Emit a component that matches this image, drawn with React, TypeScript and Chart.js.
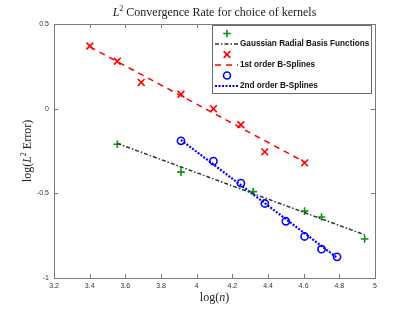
import React, { useEffect, useRef } from "react";
import { Chart, registerables } from "chart.js";

Chart.register(...registerables);

// ---- Data ----
const redX = [3.401, 3.555, 3.689, 3.912, 4.094, 4.248, 4.382, 4.605];
const redY = [0.37, 0.28, 0.155, 0.085, 0.0, -0.095, -0.255, -0.32];
const greenX = [3.555, 3.912, 4.317, 4.605, 4.7, 4.942];
const greenY = [-0.21, -0.375, -0.49, -0.605, -0.64, -0.77];
const blueX = [3.912, 4.094, 4.248, 4.382, 4.5, 4.605, 4.7, 4.787];
const blueY = [-0.19, -0.31, -0.44, -0.56, -0.665, -0.755, -0.83, -0.875];

const redFitX = [3.401, 4.605];
const redFitY = [0.365, -0.315];
const greenFitX = [3.555, 4.942];
const greenFitY = [-0.205, -0.745];
const blueFitX = [3.912, 4.787];
const blueFitY = [-0.185, -0.88];

const legendLabels = [
  "Gaussian Radial Basis Functions",
  "1st order B-Splines",
  "2nd order B-Splines",
];
const titleText = ["L", "2", " Convergence Rate for choice of kernels"];
const xTitle = ["log(", "n", ")"];
const yTitle = ["log(", "L", "2", " Error)"];

const GREEN = "#109010";
const GREEN_LINE = "#1f3f24";
const RED = "#ff0000";
const BLUE = "#0000ff";

const pts = (xs: number[], ys: number[]) => xs.map((x, i) => ({ x, y: ys[i] }));

type Part = { t: string; font: string; dy: number };

function drawRich(ctx: CanvasRenderingContext2D, parts: Part[], cx: number, cy: number) {
  let total = 0;
  const widths = parts.map((p) => {
    ctx.font = p.font;
    const w = ctx.measureText(p.t).width;
    total += w;
    return w;
  });
  let x = cx - total / 2;
  ctx.textBaseline = "middle";
  ctx.textAlign = "left";
  parts.forEach((p, i) => {
    ctx.font = p.font;
    ctx.fillText(p.t, x, cy + p.dy);
    x += widths[i];
  });
}

function drawMarker(ctx: CanvasRenderingContext2D, kind: string, x: number, y: number, r: number, color: string) {
  ctx.save();
  ctx.strokeStyle = color;
  ctx.lineWidth = 1.6;
  ctx.beginPath();
  if (kind === "plus") {
    ctx.moveTo(x - r, y); ctx.lineTo(x + r, y);
    ctx.moveTo(x, y - r); ctx.lineTo(x, y + r);
  } else if (kind === "cross") {
    const d = r * 0.8;
    ctx.moveTo(x - d, y - d); ctx.lineTo(x + d, y + d);
    ctx.moveTo(x + d, y - d); ctx.lineTo(x - d, y + d);
  } else {
    ctx.arc(x, y, r, 0, Math.PI * 2);
  }
  ctx.stroke();
  ctx.restore();
}

const decor = {
  id: "decor",
  afterDraw(chart: any) {
    const ctx: CanvasRenderingContext2D = chart.ctx;
    const { left, right, top, bottom } = chart.chartArea;
    const xs = chart.scales.x;
    const ys = chart.scales.y;
    ctx.save();
    // box
    ctx.strokeStyle = "#7a7a7a";
    ctx.lineWidth = 1;
    ctx.strokeRect(Math.round(left) + 0.5, Math.round(top) + 0.5, Math.round(right - left), Math.round(bottom - top));
    // inward ticks
    const tl = 4;
    ctx.beginPath();
    xs.ticks.forEach((t: any) => {
      const px = Math.round(xs.getPixelForValue(t.value)) + 0.5;
      ctx.moveTo(px, bottom); ctx.lineTo(px, bottom - tl);
      ctx.moveTo(px, top); ctx.lineTo(px, top + tl);
    });
    ys.ticks.forEach((t: any) => {
      const py = Math.round(ys.getPixelForValue(t.value)) + 0.5;
      ctx.moveTo(left, py); ctx.lineTo(left + tl, py);
      ctx.moveTo(right, py); ctx.lineTo(right - tl, py);
    });
    ctx.stroke();

    // title
    ctx.fillStyle = "#222";
    const serif = "'Liberation Serif', 'DejaVu Serif', serif";
    drawRich(ctx, [
      { t: titleText[0], font: `italic 12px ${serif}`, dy: 0 },
      { t: titleText[1], font: `8px ${serif}`, dy: -4 },
      { t: titleText[2], font: `12px ${serif}`, dy: 0 },
    ], (left + right) / 2, 13);

    // x title
    drawRich(ctx, [
      { t: xTitle[0], font: `12px ${serif}`, dy: 0 },
      { t: xTitle[1], font: `italic 12px ${serif}`, dy: 0 },
      { t: xTitle[2], font: `12px ${serif}`, dy: 0 },
    ], (left + right) / 2, 298);

    // y title
    ctx.save();
    ctx.translate(28, (top + bottom) / 2);
    ctx.rotate(-Math.PI / 2);
    drawRich(ctx, [
      { t: yTitle[0], font: `12px ${serif}`, dy: 0 },
      { t: yTitle[1], font: `italic 12px ${serif}`, dy: 0 },
      { t: yTitle[2], font: `8px ${serif}`, dy: -4 },
      { t: yTitle[3], font: `12px ${serif}`, dy: 0 },
    ], 0, 0);
    ctx.restore();

    // legend
    const bx = 212, by = 25, bw = 159, bh = 68;
    ctx.fillStyle = "#ffffff";
    ctx.fillRect(bx, by, bw, bh);
    ctx.strokeStyle = "#6a6a6a";
    ctx.lineWidth = 1;
    ctx.strokeRect(bx + 0.5, by + 0.5, bw, bh);
    const rows = [33.5, 44, 54.5, 65, 75.5, 86];
    const mx = 227, lx0 = 215, lx1 = 238, tx = 240;
    drawMarker(ctx, "plus", mx, rows[0], 3.8, GREEN);
    drawMarker(ctx, "cross", mx, rows[2], 4.2, RED);
    drawMarker(ctx, "circle", mx, rows[4], 3.5, BLUE);
    const lineRow = (y: number, color: string, dash: number[], lw: number) => {
      ctx.save();
      ctx.strokeStyle = color;
      ctx.lineWidth = lw;
      ctx.setLineDash(dash);
      ctx.beginPath();
      ctx.moveTo(lx0, y); ctx.lineTo(lx1, y);
      ctx.stroke();
      ctx.restore();
    };
    lineRow(rows[1], GREEN_LINE, [4, 2, 1.5, 2], 1.5);
    lineRow(rows[3], RED, [6, 5], 1.5);
    lineRow(rows[5], BLUE, [2, 1.5], 2.2);
    ctx.fillStyle = "#111";
    ctx.font = "bold 8.2px 'Liberation Sans', Arial, sans-serif";
    ctx.textAlign = "left";
    ctx.textBaseline = "middle";
    ctx.fillText(legendLabels[0], tx, rows[1]);
    ctx.fillText(legendLabels[1], tx, rows[3]);
    ctx.fillText(legendLabels[2], tx, rows[5]);
    ctx.restore();
  },
};

export default function App() {
  const ref = useRef<HTMLCanvasElement>(null);
  useEffect(() => {
    document.body.style.margin = "0";
    const chart = new Chart(ref.current!, {
      type: "scatter",
      data: {
        datasets: [
          {
            data: pts(greenFitX, greenFitY), showLine: true, pointRadius: 0,
            borderColor: GREEN_LINE, borderWidth: 1.5, borderDash: [4, 2, 1.5, 2],
          },
          {
            data: pts(redFitX, redFitY), showLine: true, pointRadius: 0,
            borderColor: RED, borderWidth: 1.5, borderDash: [6, 5],
          },
          {
            data: pts(blueFitX, blueFitY), showLine: true, pointRadius: 0,
            borderColor: BLUE, borderWidth: 2.2, borderDash: [2, 1.5],
          },
          {
            data: pts(greenX, greenY), pointStyle: "cross", pointRadius: 3.8,
            borderColor: GREEN, backgroundColor: GREEN, pointBorderWidth: 1.6,
          },
          {
            data: pts(redX, redY), pointStyle: "crossRot", pointRadius: 4.8,
            borderColor: RED, backgroundColor: RED, pointBorderWidth: 1.6,
          },
          {
            data: pts(blueX, blueY), pointStyle: "circle", pointRadius: 3.6,
            borderColor: BLUE, backgroundColor: "rgba(0,0,0,0)", pointBorderWidth: 1.6,
          },
        ],
      },
      options: {
        responsive: false,
        animation: false,
        devicePixelRatio: 1,
        layout: { padding: { top: 24, right: 40, left: 0, bottom: 0 } },
        plugins: { legend: { display: false }, title: { display: false }, tooltip: { enabled: false } },
        scales: {
          x: {
            type: "linear", min: 3.2, max: 5,
            ticks: {
              stepSize: 0.2, padding: 4, color: "#333",
              font: { family: "'Liberation Sans', Arial, sans-serif", size: 7 },
              callback: (v: any) => String(Math.round(Number(v) * 10) / 10),
            },
            grid: { display: false, drawTicks: false },
            border: { display: false },
            afterFit: (s: any) => { s.height = 34; },
          },
          y: {
            type: "linear", min: -1, max: 0.5,
            ticks: {
              stepSize: 0.5, padding: 5, color: "#333",
              font: { family: "'Liberation Sans', Arial, sans-serif", size: 7 },
              callback: (v: any) => String(Math.round(Number(v) * 10) / 10),
            },
            grid: { display: false, drawTicks: false },
            border: { display: false },
            afterFit: (s: any) => { s.width = 54; },
          },
        },
      },
      plugins: [decor],
    } as any);
    return () => chart.destroy();
  }, []);
  return (
    <div style={{ position: "absolute", left: 0, top: 0, width: 415, height: 312, background: "#fff" }}>
      <canvas ref={ref} width={415} height={312} />
    </div>
  );
}
